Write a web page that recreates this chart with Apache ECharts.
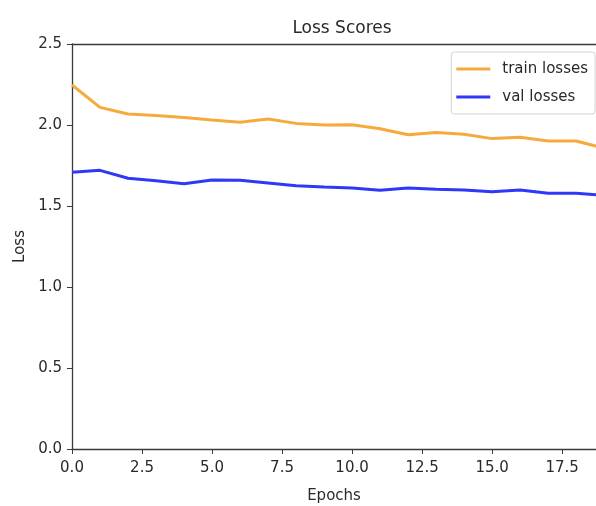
<!DOCTYPE html>
<html>
<head>
<meta charset="utf-8">
<script src="https://cdn.jsdelivr.net/npm/echarts@6/dist/echarts.min.js"></script>
<style>html,body{margin:0;padding:0;background:#fff}#c{width:596px;height:506px}</style>
</head>
<body>
<div id="c"></div>
<script>
const epochs = [0,1,2,3,4,5,6,7,8,9,10,11,12,13,14,15,16,17,18,19];
const trainLosses = [2.247,2.109,2.068,2.058,2.047,2.031,2.017,2.037,2.010,2.000,2.001,1.977,1.940,1.953,1.943,1.916,1.924,1.901,1.901,1.857];
const valLosses = [1.708,1.720,1.671,1.656,1.638,1.660,1.659,1.642,1.625,1.617,1.611,1.597,1.611,1.603,1.599,1.588,1.599,1.578,1.578,1.567];
const xTicks = [0,2.5,5,7.5,10,12.5,15,17.5];
const yTicks = [0,0.5,1,1.5,2,2.5];

const FONT = 'DejaVu Sans';
const TXT = '#2a2a2a';
const AX = '#3a3a3a';
const chart = echarts.init(document.getElementById('c'), null, {renderer:'canvas'});
const pair = a => epochs.map((e,i)=>[e,a[i]]);
chart.setOption({
  animation:false,
  backgroundColor:'#fff',
  title:{text:'Loss Scores', left:337, textAlign:'center', top:15,
    textStyle:{fontFamily:FONT, fontSize:17, fontWeight:'normal', color:TXT}},
  legend:{orient:'vertical', right:1, top:52, icon:'rect', itemWidth:34, itemHeight:3,
    itemGap:10, padding:[8,7,8,5], borderColor:'#d4d4d4', borderWidth:1, borderRadius:3,
    textStyle:{fontFamily:FONT, fontSize:15, color:TXT, lineHeight:18, padding:[0,0,0,7]},
    data:['train losses','val losses']},
  grid:{left:72, right:0, top:44, bottom:57, containLabel:false, outerBoundsMode:'none'},
  xAxis:[{type:'value', min:0, max:18.71, interval:2.5,
    name:'Epochs', nameLocation:'middle', nameGap:40,
    nameTextStyle:{fontFamily:FONT, fontSize:15, color:TXT},
    axisLine:{show:true, lineStyle:{color:AX, width:1.3}},
    axisTick:{show:true, inside:false, length:5, lineStyle:{color:AX}},
    axisLabel:{fontFamily:FONT, fontSize:15, color:TXT, margin:12, showMaxLabel:false,
      formatter:v => xTicks.some(t=>Math.abs(t-v)<1e-6) ? v.toFixed(1) : ''},
    splitLine:{show:false}},
   {type:'value', position:'top', min:0, max:18.71, axisLine:{show:true, lineStyle:{color:AX, width:1.3}},
    axisTick:{show:false}, axisLabel:{show:false}, splitLine:{show:false}}],
  yAxis:{type:'value', min:0, max:2.5, interval:0.5,
    name:'Loss', nameLocation:'middle', nameGap:40, nameRotate:90,
    nameTextStyle:{fontFamily:FONT, fontSize:15, color:TXT},
    axisLine:{show:true, lineStyle:{color:AX, width:1.3}},
    axisTick:{show:true, length:5, lineStyle:{color:AX}},
    axisLabel:{fontFamily:FONT, fontSize:15, color:TXT, margin:10,
      formatter:v => v.toFixed(1)},
    splitLine:{show:false}},
  series:[
    {name:'train losses', type:'line', data:pair(trainLosses), showSymbol:false, symbol:'none',
      lineStyle:{color:'#f6aa3c', width:3}, itemStyle:{color:'#f6aa3c'}, clip:true},
    {name:'val losses', type:'line', data:pair(valLosses), showSymbol:false, symbol:'none',
      lineStyle:{color:'#2f38f6', width:3}, itemStyle:{color:'#2f38f6'}, clip:true}
  ]
});
</script>
</body>
</html>
